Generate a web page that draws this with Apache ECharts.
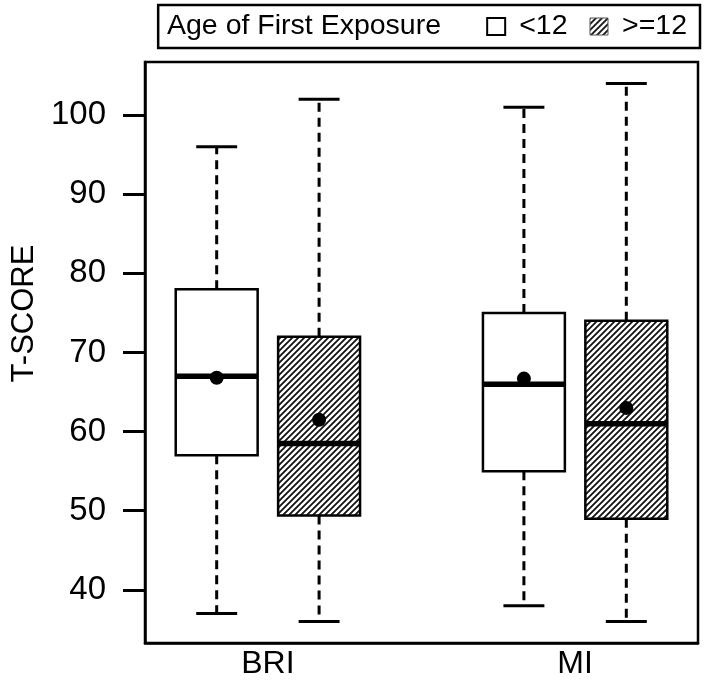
<!DOCTYPE html>
<html>
<head>
<meta charset="utf-8">
<script src="https://cdn.jsdelivr.net/npm/echarts@6/dist/echarts.min.js"></script>
<style>
  html, body { margin: 0; padding: 0; background: #fff; }
  #chart { width: 708px; height: 694px; }
</style>
</head>
<body>
<div id="chart"></div>
<script>
const categories = ['BRI', 'MI'];
const groupNames = ['<12', '>=12'];
// each row: [min, q1, median, q3, max] for one category
const boxUnder12 = [[37, 57, 67, 78, 96], [38, 55, 66, 75, 101]];
const boxOver12 = [[36, 49.4, 58.5, 72, 102], [36, 49, 61, 74, 104]];
const meanUnder12 = [66.8, 66.7];
const meanOver12 = [61.5, 63];
const yTicks = [40, 50, 60, 70, 80, 90, 100];

const FONT = '"Liberation Sans", Arial, Helvetica, sans-serif';

// R style layout: boxes at 1,2 and 4,5, group label in between
const groupCenter = i => 1.5 + 3 * i;
const offsets = [-0.5, 0.5];

function hatchPattern() {
  const s = 6;
  const c = document.createElement('canvas');
  c.width = s; c.height = s;
  const g = c.getContext('2d');
  g.fillStyle = '#fff';
  g.fillRect(0, 0, s, s);
  g.strokeStyle = '#111';
  g.lineWidth = 1.8;
  g.beginPath();
  g.moveTo(0, s); g.lineTo(s, 0);
  g.moveTo(-1, 1); g.lineTo(1, -1);
  g.moveTo(s - 1, s + 1); g.lineTo(s + 1, s - 1);
  g.stroke();
  return { image: c, repeat: 'repeat' };
}
const hatch = hatchPattern();

function boxRenderer(offset, fill) {
  return function (params, api) {
    const x = groupCenter(api.value(0)) + offset;
    const lo = api.coord([x, api.value(1)]);
    const q1 = api.coord([x, api.value(2)]);
    const md = api.coord([x, api.value(3)]);
    const q3 = api.coord([x, api.value(4)]);
    const hi = api.coord([x, api.value(5)]);
    const w = api.size([0.8, 0])[0];
    const cx = lo[0];
    const dash = { stroke: '#000', lineWidth: 3, lineDash: [9, 6] };
    const solid = { stroke: '#000', lineWidth: 3 };
    return {
      type: 'group',
      children: [
        { type: 'line', shape: { x1: cx, y1: q3[1], x2: cx, y2: hi[1] }, style: dash },
        { type: 'line', shape: { x1: cx, y1: q1[1], x2: cx, y2: lo[1] }, style: dash },
        { type: 'line', shape: { x1: cx - w / 4, y1: hi[1], x2: cx + w / 4, y2: hi[1] }, style: solid },
        { type: 'line', shape: { x1: cx - w / 4, y1: lo[1], x2: cx + w / 4, y2: lo[1] }, style: solid },
        { type: 'rect', shape: { x: cx - w / 2, y: q3[1], width: w, height: q1[1] - q3[1] },
          style: { fill: fill, stroke: '#000', lineWidth: 2.5 } },
        { type: 'line', shape: { x1: cx - w / 2, y1: md[1], x2: cx + w / 2, y2: md[1] },
          style: { stroke: '#000', lineWidth: 5.5 } }
      ]
    };
  };
}

const boxes = [boxUnder12, boxOver12];
const means = [meanUnder12, meanOver12];
const fills = ['#fff', hatch];

const series = [];
groupNames.forEach((name, g) => {
  series.push({
    name: name,
    type: 'custom',
    renderItem: boxRenderer(offsets[g], fills[g]),
    itemStyle: { color: fills[g], borderColor: '#000' },
    encode: { x: 0, y: [1, 2, 3, 4, 5] },
    data: boxes[g].map((s, i) => [i].concat(s)),
    silent: true
  });
});
groupNames.forEach((name, g) => {
  series.push({
    name: 'mean ' + name,
    type: 'scatter',
    symbol: 'circle',
    symbolSize: 14,
    itemStyle: { color: '#000', opacity: 1 },
    z: 10,
    silent: true,
    data: means[g].map((m, i) => [groupCenter(i) + offsets[g], m])
  });
});

const chart = echarts.init(document.getElementById('chart'));
chart.setOption({
  animation: false,
  backgroundColor: '#fff',
  title: {
    text: 'Age of First Exposure',
    left: 167,
    top: 12,
    padding: 0,
    textStyle: { fontFamily: FONT, fontSize: 28.5, fontWeight: 'normal', color: '#000' }
  },
  legend: {
    data: [
      { name: '<12', itemStyle: { color: '#fff', borderColor: '#000', borderWidth: 2 } },
      { name: '>=12', itemStyle: { color: hatch, borderColor: '#555', borderWidth: 1 } }
    ],
    right: 8,
    top: 5,
    icon: 'rect',
    itemWidth: 18,
    itemHeight: 17,
    itemGap: 22,
    selectedMode: false,
    padding: [7, 13, 7, 328],
    borderColor: '#000',
    borderWidth: 2.5,
    textStyle: { fontFamily: FONT, fontSize: 28.5, color: '#000', padding: [0, 0, 0, 9] }
  },
  grid: {
    left: 145, right: 10, top: 62, bottom: 51,
    show: true, borderColor: '#000', borderWidth: 2.5,
    containLabel: false, outerBoundsMode: 'none'
  },
  xAxis: {
    type: 'value',
    min: 0.3,
    max: 5.7,
    splitLine: { show: false },
    axisLine: { show: true, lineStyle: { color: '#000', width: 2.5 } },
    axisTick: { show: false },
    axisLabel: {
      customValues: categories.map((c, i) => groupCenter(i)),
      formatter: v => categories[Math.round((v - 1.5) / 3)],
      fontFamily: FONT, fontSize: 32, color: '#000', margin: 5
    }
  },
  yAxis: {
    type: 'value',
    min: 33.28,
    max: 106.72,
    splitLine: { show: false },
    axisLine: { show: true, lineStyle: { color: '#000', width: 2.5 } },
    axisTick: { show: true, length: 22, customValues: yTicks, lineStyle: { color: '#000', width: 3 } },
    axisLabel: { customValues: yTicks, fontFamily: FONT, fontSize: 33, color: '#000', margin: 39 },
    name: 'T-SCORE',
    nameLocation: 'middle',
    nameGap: 100,
    nameTextStyle: { fontFamily: FONT, fontSize: 31, color: '#000', padding: [0, 0, 0, 78] }
  },
  series: series
});
</script>
</body>
</html>
